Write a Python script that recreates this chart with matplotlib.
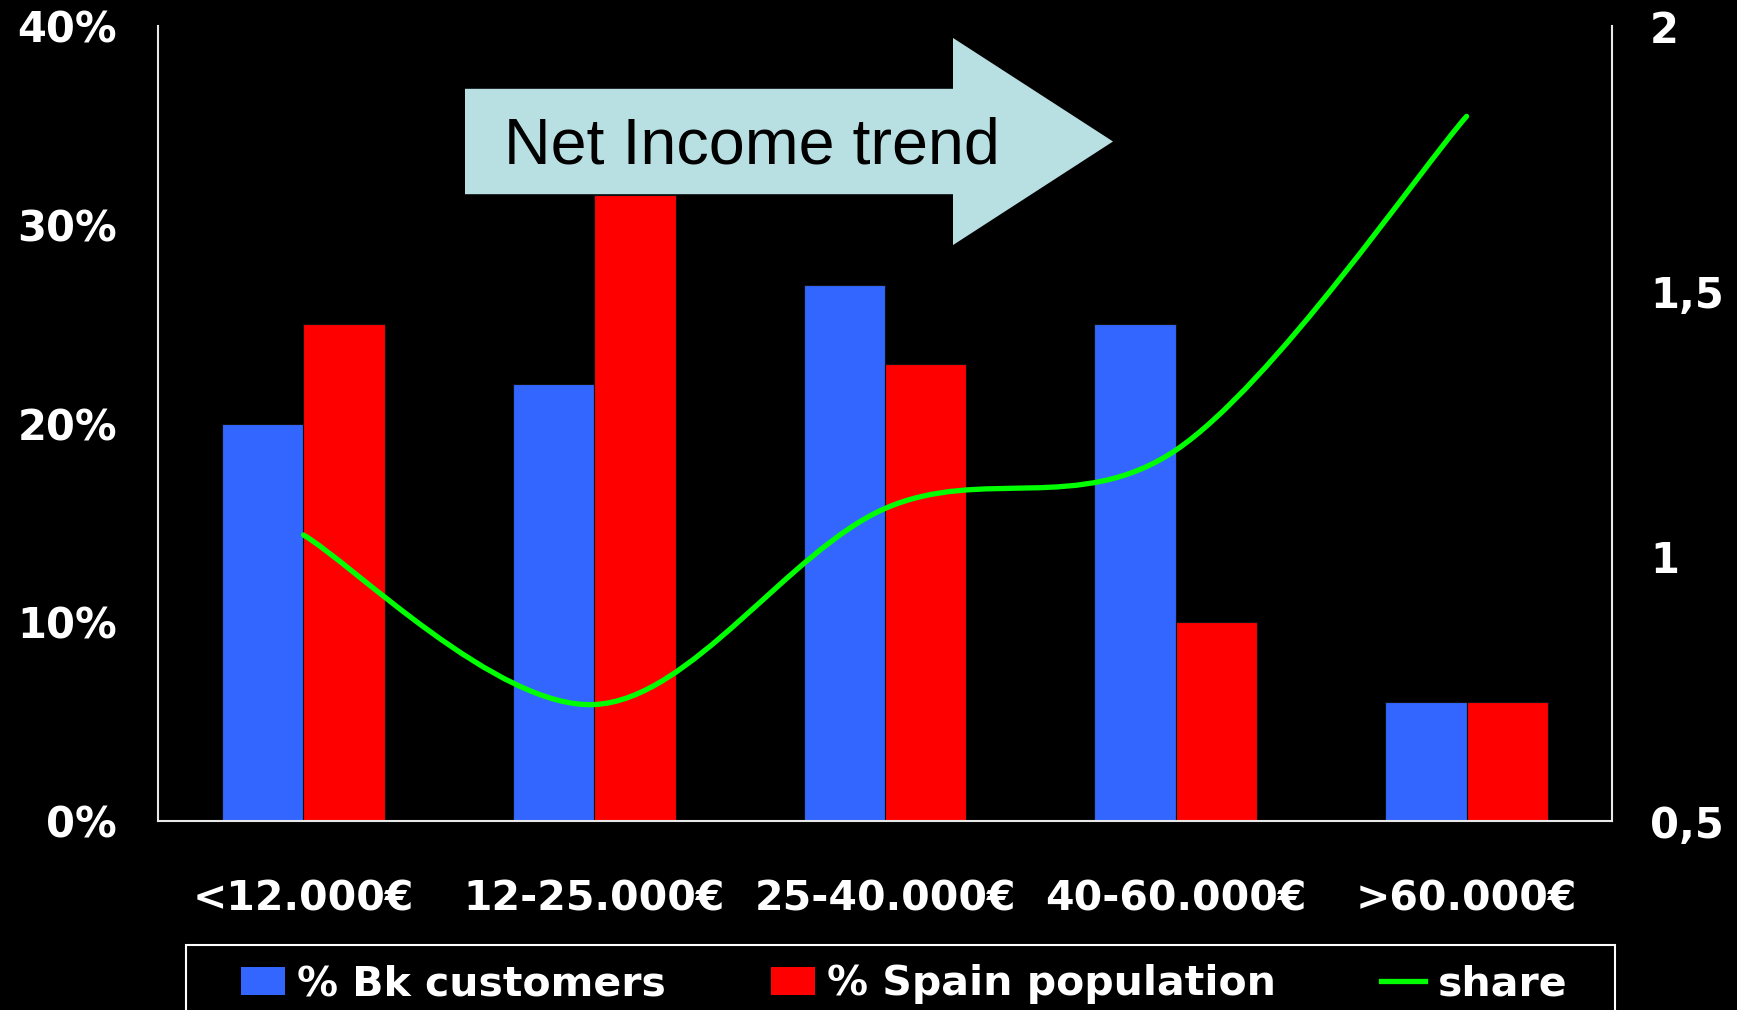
import numpy as np
import matplotlib
matplotlib.use("Agg")
import matplotlib.pyplot as plt
from matplotlib.path import Path
from matplotlib.patches import PathPatch, FancyArrow, Rectangle, Patch
from matplotlib.lines import Line2D
from matplotlib.ticker import FuncFormatter

# income brackets and series
brackets = ["<12.000€", "12-25.000€", "25-40.000€", "40-60.000€", ">60.000€"]
bk_customers = [20, 22, 27, 25, 6]          # % of Bk customers
spain_population = [25, 31.5, 23, 10, 6]     # % of Spain population
share = [1.04, 0.72, 1.09, 1.2, 1.83]       # customers / population ratio

BLUE = "#3366ff"
RED = "#ff0000"
GREEN = "#00ff00"
ARROW = "#b8e0e3"

plt.rcParams["font.family"] = ["DejaVu Sans"]


def smooth_path(xs, ys):
    """Bezier path through the points, Excel-style 'smoothed line'."""
    n = len(xs)
    verts = [(xs[0], ys[0])]
    codes = [Path.MOVETO]
    for i in range(n - 1):
        ip = i - 1 if i > 0 else i
        inx = i + 2 if i + 2 < n else i + 1
        c1 = (xs[i] + (xs[i + 1] - xs[ip]) / 6, ys[i] + (ys[i + 1] - ys[ip]) / 6)
        c2 = (xs[i + 1] - (xs[inx] - xs[i]) / 6, ys[i + 1] - (ys[inx] - ys[i]) / 6)
        verts += [c1, c2, (xs[i + 1], ys[i + 1])]
        codes += [Path.CURVE4] * 3
    return Path(verts, codes)


fig = plt.figure(figsize=(17.37, 10.10), dpi=100, facecolor="black")
ax = fig.add_axes([0.091, 0.187, 0.837, 0.787])
ax.set_facecolor("black")

x = np.arange(len(brackets))
w = 0.28
ax.bar(x - w / 2, bk_customers, w, color=BLUE, edgecolor="#101010", linewidth=0.8, zorder=2)
ax.bar(x + w / 2, spain_population, w, color=RED, edgecolor="#101010", linewidth=0.8, zorder=2)

ax.set_xlim(-0.5, len(brackets) - 0.5)
ax.set_ylim(0, 40)
ax.set_yticks([0, 10, 20, 30, 40])
ax.yaxis.set_major_formatter(FuncFormatter(lambda v, p: f"{v:.0f}%"))
ax.set_xticks(x)
ax.set_xticklabels(brackets)
ax.tick_params(axis="x", length=0, pad=42, labelsize=29.5, colors="white")
ax.tick_params(axis="y", length=0, pad=29.5, labelsize=30, colors="white")
for lbl in ax.get_xticklabels() + ax.get_yticklabels():
    lbl.set_fontweight("bold")

for side in ["top", "right"]:
    ax.spines[side].set_visible(False)
for side in ["left", "bottom"]:
    ax.spines[side].set_color("#e8e8e8")
    ax.spines[side].set_linewidth(1.5)

# secondary axis for the share ratio
ax2 = ax.twinx()
ax2.set_ylim(0.5, 2)
ax2.set_yticks([0.5, 1, 1.5, 2])
ax2.yaxis.set_major_formatter(FuncFormatter(lambda v, p: f"{v:g}".replace(".", ",")))
ax2.tick_params(axis="y", length=0, pad=27.5, labelsize=30, colors="white")
for lbl in ax2.get_yticklabels():
    lbl.set_fontweight("bold")
for side in ["top", "left", "bottom"]:
    ax2.spines[side].set_visible(False)
ax2.spines["right"].set_color("#e8e8e8")
ax2.spines["right"].set_linewidth(1.5)

curve = PathPatch(smooth_path(list(x), share), fill=False, edgecolor=GREEN,
                  linewidth=3.8, capstyle="round", joinstyle="round", zorder=3)
ax2.add_patch(curve)

# "Net Income trend" arrow
W, H = 1737.0, 1010.0
arrow = FancyArrow(465 / W, 1 - 141.5 / H, (1113 - 465) / W, 0,
                   width=(194 - 88.6) / H, head_width=(244.8 - 37.7) / H,
                   head_length=(1113 - 953) / W, length_includes_head=True,
                   transform=fig.transFigure, facecolor=ARROW, edgecolor="none", zorder=5)
fig.patches.append(arrow)
fig.text(504 / W, 1 - 147 / H, "Net Income trend", fontsize=46.5, family="Liberation Sans",
         color="black", ha="left", va="center", zorder=6)

# legend box along the bottom
frame = Rectangle((186 / W, -0.05), (1615 - 186) / W, 0.05 + (1 - 945 / H),
                  transform=fig.transFigure, facecolor="black", edgecolor="white",
                  linewidth=1.5, zorder=4)
fig.patches.append(frame)
handles = [Patch(facecolor=BLUE, edgecolor="none"),
           Patch(facecolor=RED, edgecolor="none"),
           Line2D([0], [0], color=GREEN, linewidth=3.8)]
labels = ["% Bk customers", "% Spain population", "share"]
leg = fig.legend(handles, labels, loc="center left", ncol=3, mode="expand",
                 bbox_to_anchor=(241 / W, 1 - 984 / H, (1567 - 241) / W, 0),
                 frameon=False, borderpad=0, borderaxespad=0,
                 handlelength=1.07, handleheight=0.68, handletextpad=0.3,
                 prop={"weight": "bold", "size": 29.5})
for t in leg.get_texts():
    t.set_color("white")
leg.set_zorder(7)

fig.savefig("out.png", dpi=100, facecolor="black")
